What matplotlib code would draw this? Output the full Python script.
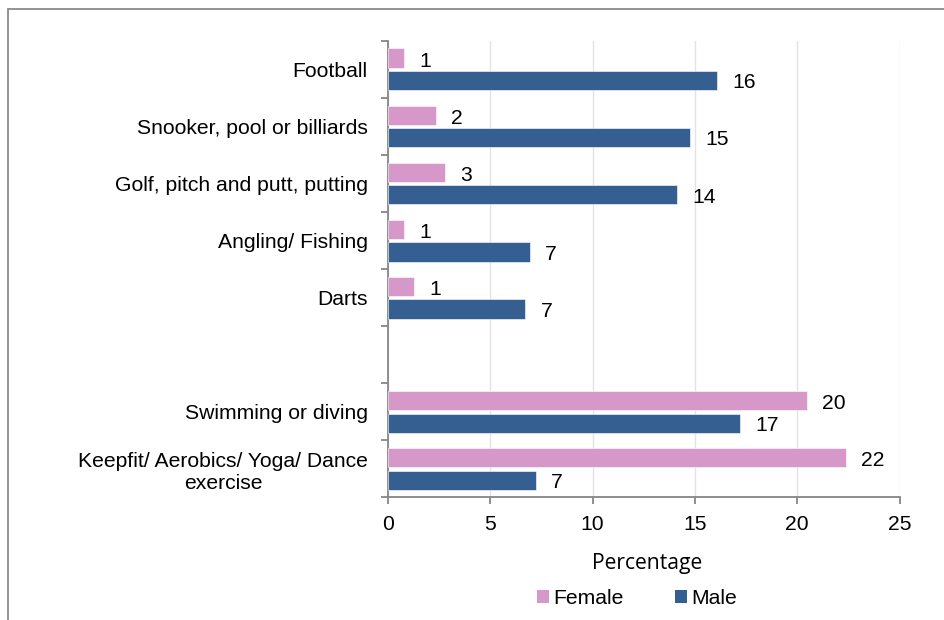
import numpy as np
import matplotlib.pyplot as plt
from matplotlib.patches import Rectangle, Patch

# ─── Data ─────────────────────────────────────────────────────────────────────
CATEGORIES = [
    "Football",
    "Snooker, pool or billiards",
    "Golf, pitch and putt, putting",
    "Angling/ Fishing",
    "Darts",
    "",                                   # blank slot between the two groups
    "Swimming or diving",
    "Keepfit/ Aerobics/ Yoga/ Dance\nexercise",
]
FEMALE = [0.78, 2.33, 2.80, 0.77, 1.27, np.nan, 20.48, 22.36]
MALE   = [16.09, 14.77, 14.14, 6.92, 6.71, np.nan, 17.20, 7.21]
XTICKS = [0, 5, 10, 15, 20, 25]

# ─── Style ────────────────────────────────────────────────────────────────────
PINK  = "#D698C8"
BLUE  = "#365F91"
AXIS  = "#868686"
GRID  = "#E3E3E3"
FS    = 15.2
plt.rcParams["font.family"] = ["Liberation Sans", "DejaVu Sans"]

fig = plt.figure(figsize=(9.44, 6.2), dpi=100)
ax = fig.add_axes([0.411, 0.198, 0.542, 0.736])

# outer chart border (only the top and left edges are inside the crop)
fig.patches.append(Rectangle((8 / 944, -0.05), 1.2, 1 - 9 / 620 + 0.05,
                             transform=fig.transFigure, fill=False,
                             edgecolor="#8A8A8A", linewidth=1.3))

y = np.arange(len(CATEGORIES))
h = 0.335
off = 0.2
ax.barh(y - off, FEMALE, height=h, color=PINK, edgecolor="white",
        linewidth=0.4, zorder=3)
ax.barh(y + off, MALE, height=h, color=BLUE, edgecolor="white",
        linewidth=0.4, zorder=3)

for yi, v in zip(y, FEMALE):
    if not np.isnan(v):
        ax.annotate(f"{v:.0f}", (v, yi - off), xytext=(11, -2.5),
                    textcoords="offset points", va="center", ha="left",
                    fontsize=FS)
for yi, v in zip(y, MALE):
    if not np.isnan(v):
        ax.annotate(f"{v:.0f}", (v, yi + off), xytext=(11, -1.5),
                    textcoords="offset points", va="center", ha="left",
                    fontsize=FS)

ax.set_ylim(len(CATEGORIES) - 0.5, -0.5)
ax.set_xlim(0, 25)
ax.set_xticks(XTICKS)
ax.set_xticklabels([str(t) for t in XTICKS], fontsize=FS)
ax.set_yticks(y)
ax.set_yticklabels(CATEGORIES, fontsize=FS, multialignment="center")
ax.set_yticks(np.arange(len(CATEGORIES) + 1) - 0.5, minor=True)

ax.tick_params(axis="y", which="major", length=0, pad=14.5)
ax.tick_params(axis="y", which="minor", length=5, width=1.3, color=AXIS)
ax.tick_params(axis="x", length=5, width=1.3, color=AXIS, pad=8)

ax.grid(axis="x", color=GRID, linewidth=1, zorder=0)
ax.set_axisbelow(True)
for s in ("top", "right"):
    ax.spines[s].set_visible(False)
for s in ("left", "bottom"):
    ax.spines[s].set_color(AXIS)
    ax.spines[s].set_linewidth(1.3)

fig.text(647 / 944, 1 - 563 / 620, "Percentage", family="Open Sans",
         fontsize=FS, ha="center", va="center")

handles = [Patch(facecolor=PINK, label="Female"),
           Patch(facecolor=BLUE, label="Male")]
fig.legend(handles=handles, loc="center", bbox_to_anchor=(637 / 944, 1 - 598 / 620),
           ncol=2, frameon=False, fontsize=FS, handlelength=0.57,
           handleheight=0.57, handletextpad=0.2, columnspacing=2.4,
           borderaxespad=0, borderpad=0)

fig.savefig("out.png", dpi=100)
